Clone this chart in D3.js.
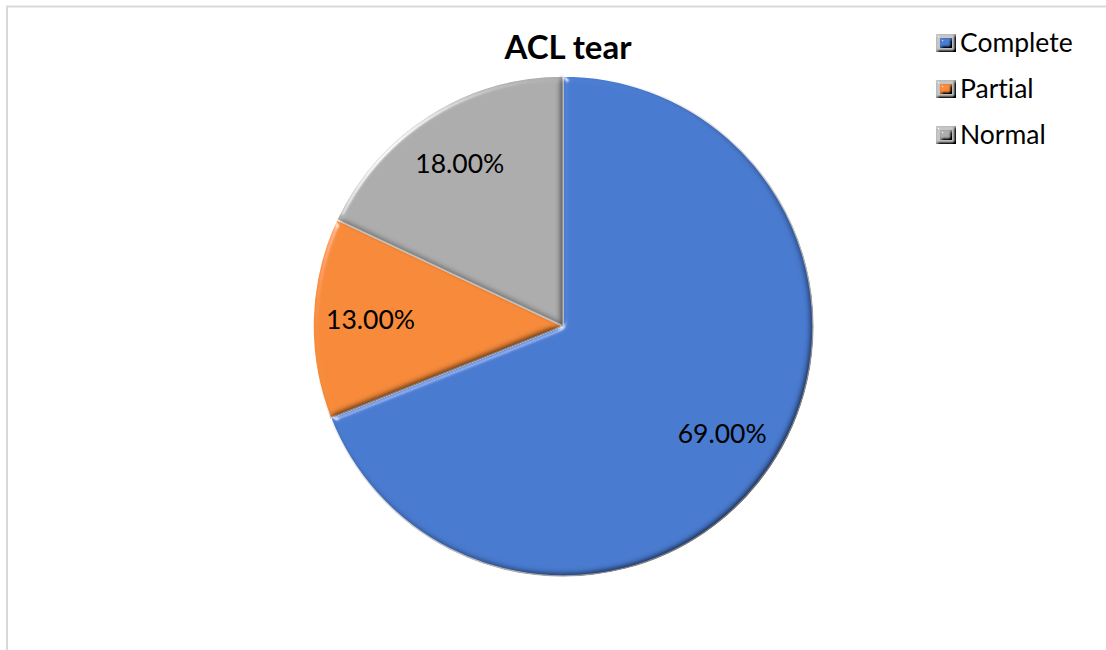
<!DOCTYPE html>
<html>
<head>
<meta charset="utf-8">
<script src="https://cdn.jsdelivr.net/npm/d3@7"></script>
<style>
  html, body { margin: 0; padding: 0; background: #fff; }
  svg { display: block; }
  text { font-variant-ligatures: none; }
</style>
</head>
<body>
<svg id="chart" width="1106" height="650"></svg>
<script>
// Chart data
const title = "ACL tear";
const categories = ["Complete", "Partial", "Normal"];
const values = [69, 13, 18];
const colors = ["#4a7bd0", "#f78b3b", "#adadad"];

const W = 1106, H = 650;
const svg = d3.select("#chart");
const font = "Lato, 'Open Sans', 'Liberation Sans', sans-serif";

// Chart area frame
svg.append("path")
  .attr("d", `M7,${H} L7,6.5 L${W},6.5`)
  .attr("fill", "none")
  .attr("stroke", "#d9d9d9")
  .attr("stroke-width", 2);

// Bevel filter: diffuse shading keeps flat areas at the base colour,
// specular adds a highlight on edges facing the upper-left light.
const defs = svg.append("defs");
function bevel(id, blur, scale) {
  const elev = 55;
  const f = defs.append("filter").attr("id", id)
    .attr("x", "-10%").attr("y", "-10%").attr("width", "120%").attr("height", "120%");
  f.append("feGaussianBlur").attr("in", "SourceAlpha").attr("stdDeviation", blur).attr("result", "blur");
  const diff = f.append("feDiffuseLighting")
    .attr("in", "blur").attr("surfaceScale", scale)
    .attr("diffuseConstant", 1 / Math.sin(elev * Math.PI / 180))
    .attr("lighting-color", "#ffffff").attr("result", "diff");
  diff.append("feDistantLight").attr("azimuth", 225).attr("elevation", elev);
  const spec = f.append("feSpecularLighting")
    .attr("in", "blur").attr("surfaceScale", scale).attr("specularConstant", 0.9)
    .attr("specularExponent", 40).attr("lighting-color", "#ffffff").attr("result", "spec");
  spec.append("feDistantLight").attr("azimuth", 225).attr("elevation", 20);
  f.append("feComposite").attr("in", "SourceGraphic").attr("in2", "diff")
    .attr("operator", "arithmetic").attr("k1", 1).attr("k2", 0).attr("k3", 0).attr("k4", 0)
    .attr("result", "shaded");
  f.append("feComposite").attr("in", "spec").attr("in2", "SourceAlpha").attr("operator", "in").attr("result", "specIn");
  f.append("feComposite").attr("in", "shaded").attr("in2", "SourceAlpha").attr("operator", "in").attr("result", "shadedIn");
  f.append("feComposite").attr("in", "specIn").attr("in2", "shadedIn")
    .attr("operator", "arithmetic").attr("k1", 0).attr("k2", 0.6).attr("k3", 1).attr("k4", 0);
}
bevel("bevel", 3.5, 5);
bevel("bevelSmall", 1.5, 4);

// Title
svg.append("text")
  .attr("x", 568).attr("y", 59)
  .attr("text-anchor", "middle")
  .attr("font-family", font)
  .attr("font-weight", "bold")
  .attr("font-size", 33)
  .attr("fill", "#000")
  .text(title);

// Pie
const cx = 563, cy = 326, r = 250;
const pie = d3.pie().sort(null).value(d => d.value);
const arcs = pie(categories.map((c, i) => ({ name: c, value: values[i], color: colors[i] })));
const arc = d3.arc().innerRadius(0).outerRadius(r);
const labelArc = d3.arc().innerRadius(r * 0.77).outerRadius(r * 0.77);

const g = svg.append("g").attr("transform", `translate(${cx},${cy})`);
g.selectAll("path.slice")
  .data(arcs)
  .join("path")
  .attr("class", "slice")
  .attr("d", arc)
  .attr("fill", d => d.data.color)
  .attr("stroke", "#ffffff")
  .attr("stroke-width", 1.5)
  .attr("filter", "url(#bevel)");

g.selectAll("text.label")
  .data(arcs)
  .join("text")
  .attr("class", "label")
  .attr("transform", d => `translate(${labelArc.centroid(d)})`)
  .attr("text-anchor", "middle")
  .attr("dy", "0.35em")
  .attr("font-family", font)
  .attr("font-size", 26.5)
  .attr("fill", "#000")
  .text(d => d.data.value.toFixed(2) + "%");

// Legend: beveled grey key frame with the slice colour inset
const legendY = d3.scalePoint().domain(categories).range([43, 135]);
const lg = svg.append("g");
const items = lg.selectAll("g")
  .data(categories)
  .join("g")
  .attr("transform", d => `translate(936,${legendY(d)})`);
items.append("rect")
  .attr("x", 0).attr("y", -9).attr("width", 20).attr("height", 18)
  .attr("fill", "#c4c4c4")
  .attr("filter", "url(#bevelSmall)");
items.append("rect")
  .attr("x", 4).attr("y", -5).attr("width", 12).attr("height", 10)
  .attr("fill", (d, i) => colors[i])
  .attr("filter", "url(#bevelSmall)");
items.append("text")
  .attr("x", 24).attr("y", 0)
  .attr("dy", "0.35em")
  .attr("font-family", font)
  .attr("font-size", 26.5)
  .attr("fill", "#000")
  .text(d => d);
</script>
</body>
</html>
